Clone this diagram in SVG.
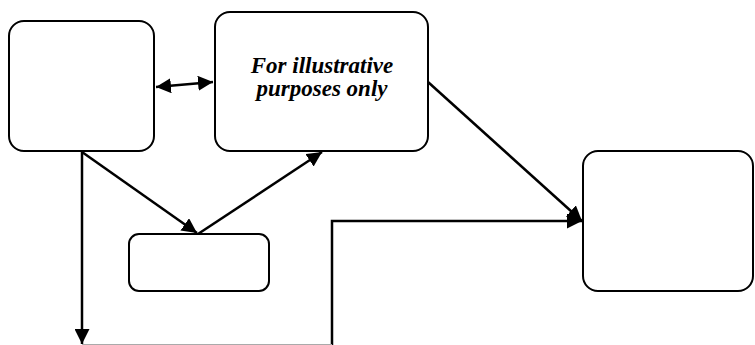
<svg xmlns="http://www.w3.org/2000/svg" width="755" height="345" viewBox="0 0 755 345">
<style>
.box{fill:#fff;stroke:#000;stroke-width:2}
.c{fill:none;stroke:#000;stroke-width:2.5}
</style>
<defs>
<marker id="a" viewBox="0 0 10 10" refX="10" refY="5" markerWidth="6" markerHeight="6" orient="auto-start-reverse">
<path d="M0,0 L10,5 L0,10 Z" fill="#000"/>
</marker>
</defs>
<rect width="755" height="345" fill="#fff"/>
<g id="nodeA"><rect class="box" x="9" y="21" width="145" height="130" rx="15"/></g>
<g id="nodeB"><rect class="box" x="215" y="12" width="213" height="139" rx="15"/>
<text x="322" y="72.5" font-family="Liberation Serif" font-weight="bold" font-style="italic" font-size="23" text-anchor="middle">For illustrative</text>
<text x="322" y="96" font-family="Liberation Serif" font-weight="bold" font-style="italic" font-size="23" text-anchor="middle">purposes only</text></g>
<g id="nodeC"><rect class="box" x="129" y="234" width="140" height="57" rx="10"/></g>
<g id="nodeD"><rect class="box" x="583" y="151" width="170" height="140" rx="15"/></g>
<g id="connectors">
<line class="c" x1="156" y1="87" x2="213" y2="82" marker-start="url(#a)" marker-end="url(#a)"/>
<line class="c" x1="82" y1="152" x2="82" y2="344" marker-end="url(#a)"/>
<line class="c" x1="82" y1="152" x2="197" y2="233" marker-end="url(#a)"/>
<line class="c" x1="198" y1="234" x2="322" y2="152" marker-end="url(#a)"/>
<line class="c" x1="428" y1="82" x2="582" y2="221" marker-end="url(#a)"/>
<polyline class="c" points="332,345 332,221 582,221" marker-end="url(#a)"/>
<line x1="82" y1="344.5" x2="332" y2="344.5" stroke="#aaa" stroke-width="1"/>
</g>
</svg>
